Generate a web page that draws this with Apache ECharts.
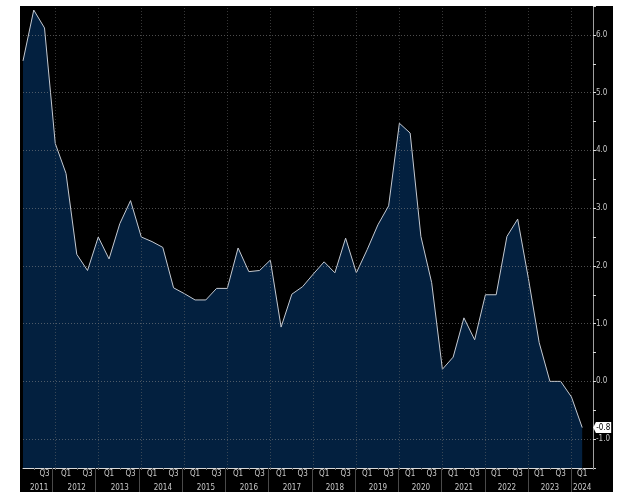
<!DOCTYPE html>
<html><head><meta charset="utf-8">
<script src="https://cdn.jsdelivr.net/npm/echarts@6/dist/echarts.min.js"></script>
<style>
html,body{margin:0;padding:0;background:#fff;width:619px;height:492px;overflow:hidden}
#c{position:absolute;left:20px;top:6px;width:593px;height:486px;}
</style></head><body><div id="c"></div>
<script>
const quarters = [
 '2011 Q1','2011 Q2','2011 Q3','2011 Q4',
 '2012 Q1','2012 Q2','2012 Q3','2012 Q4',
 '2013 Q1','2013 Q2','2013 Q3','2013 Q4',
 '2014 Q1','2014 Q2','2014 Q3','2014 Q4',
 '2015 Q1','2015 Q2','2015 Q3','2015 Q4',
 '2016 Q1','2016 Q2','2016 Q3','2016 Q4',
 '2017 Q1','2017 Q2','2017 Q3','2017 Q4',
 '2018 Q1','2018 Q2','2018 Q3','2018 Q4',
 '2019 Q1','2019 Q2','2019 Q3','2019 Q4',
 '2020 Q1','2020 Q2','2020 Q3','2020 Q4',
 '2021 Q1','2021 Q2','2021 Q3','2021 Q4',
 '2022 Q1','2022 Q2','2022 Q3','2022 Q4',
 '2023 Q1','2023 Q2','2023 Q3','2023 Q4',
 '2024 Q1'
];
const values = [
 5.55, 6.43, 6.12, 4.12,
 3.60, 2.20, 1.92, 2.50,
 2.12, 2.73, 3.13, 2.50,
 2.42, 2.32, 1.62, 1.52,
 1.41, 1.41, 1.61, 1.61,
 2.31, 1.90, 1.92, 2.10,
 0.94, 1.51, 1.64, 1.86,
 2.07, 1.88, 2.48, 1.88,
 2.28, 2.71, 3.04, 4.47,
 4.30, 2.51, 1.71, 0.21,
 0.42, 1.10, 0.72, 1.50,
 1.50, 2.51, 2.81, 1.78,
 0.67, 0.00, 0.00, -0.27,
 -0.80
];
const yearLabels = ['2011','2012','2013','2014','2015','2016','2017','2018','2019','2020','2021','2022','2023','2024'];
const quarterTickLabels = ['Q1','Q3'];
const yTickLabels = ['-1.0','0.0','1.0','2.0','3.0','4.0','5.0','6.0'];

const xMax = values.length;            // one empty quarter at the right
const FONT = "'Liberation Sans Narrow','DejaVu Sans Condensed','Arial Narrow',sans-serif";

const yearInfo = yearLabels.map(y => {
  const f = quarters.findIndex(q => q.startsWith(y));
  const s = f - 1, e = f - 1 + 4;
  const cs = Math.max(0, s), ce = Math.min(xMax, e);
  return {label: y, boundary: s, center: (cs + ce) / 2};
});
const boundaries = yearInfo.filter(d => d.boundary > 0).map(d => d.boundary);

const chart = echarts.init(document.getElementById('c'));
chart.setOption({
  backgroundColor: '#000',
  animation: false,
  grid: [
    {left: 0, right: 20, top: 0, bottom: 24},
    {left: 0, right: 20, top: 462, height: 24}
  ],
  xAxis: [
    {
      type: 'value', gridIndex: 0, min: 0, max: xMax, interval: 1,
      axisLine: {show: true, onZero: false, lineStyle: {color: '#d8d8d8', width: 1}},
      axisTick: {show: true, length: 2, lineStyle: {color: '#6a6a6a'}},
      splitLine: {show: false},
      axisLabel: {
        show: true, margin: 2, fontSize: 8, color: '#c8c8c8', fontFamily: FONT,
        showMinLabel: false,
        formatter: v => {
          const q = quarters[Math.round(v)];
          if (q === undefined || Math.abs(v - Math.round(v)) > 1e-6) return '';
          const ql = q.split(' ')[1];
          return quarterTickLabels.includes(ql) ? ql : '';
        }
      }
    },
    {
      type: 'value', gridIndex: 0, min: 0, max: xMax, interval: 0.5, position: 'bottom',
      axisLine: {show: false, onZero: false}, axisTick: {show: false}, splitLine: {show: false},
      axisLabel: {
        show: true, margin: 16, fontSize: 8, color: '#c8c8c8', fontFamily: FONT,
        showMinLabel: true, showMaxLabel: true,
        formatter: v => {
          const d = yearInfo.find(d => Math.abs(d.center - v) < 1e-6);
          return d ? d.label : '';
        }
      }
    },
    {type: 'value', gridIndex: 1, min: 0, max: xMax, show: false}
  ],
  yAxis: [
    {
      type: 'value', gridIndex: 0, position: 'right', min: -1.5, max: 6.5, interval: 0.5,
      axisLine: {show: true, onZero: false, lineStyle: {color: '#a0a0a0', width: 1}},
      axisTick: {show: true, length: 3, lineStyle: {color: '#dddddd'}},
      splitLine: {show: false},
      axisLabel: {
        show: true, margin: 3, fontSize: 8, color: '#c8c8c8', fontFamily: FONT,
        formatter: v => {
          const t = yTickLabels.find(t => Math.abs(parseFloat(t) - v) < 1e-6);
          return t || '';
        }
      }
    },
    {type: 'value', gridIndex: 1, min: 0, max: 1, show: false}
  ],
  series: [
    {
      type: 'line', xAxisIndex: 0, yAxisIndex: 0,
      data: values.map((v, i) => [i, v]),
      symbol: 'none',
      lineStyle: {color: '#c4c9d1', width: 1},
      areaStyle: {color: '#03203f', opacity: 1, origin: 'start'},
      markLine: {
        silent: true, symbol: ['none', 'none'], label: {show: false},
        animation: false,
        data: [
          ...yTickLabels.map(t => ({yAxis: parseFloat(t), lineStyle: {color: 'rgba(140,140,140,0.55)', type: [1, 2], width: 1}})),
          ...boundaries.map(b => ({xAxis: b, lineStyle: {color: 'rgba(110,110,110,0.5)', type: [1, 2], width: 1}}))
        ]
      },
      markPoint: {
        silent: true, animation: false,
        data: [{coord: [values.length - 1, values[values.length - 1]], value: values[values.length - 1]}],
        symbol: 'path://M0,5 L3,0 L20,0 L20,10 L3,10 Z',
        symbolSize: [18, 11],
        symbolOffset: [20, 0],
        symbolKeepAspect: false,
        itemStyle: {color: '#ffffff'},
        label: {show: true, position: 'inside', offset: [1, 0], color: '#000', fontSize: 8, fontFamily: FONT,
                formatter: p => Number(p.value).toFixed(1)}
      }
    },
    {
      type: 'line', xAxisIndex: 2, yAxisIndex: 1, data: [],
      markLine: {
        silent: true, symbol: ['none', 'none'], label: {show: false}, animation: false,
        lineStyle: {color: '#4a4a4a', type: 'solid', width: 1},
        data: boundaries.map(b => ({xAxis: b}))
      }
    }
  ]
});
</script></body></html>
